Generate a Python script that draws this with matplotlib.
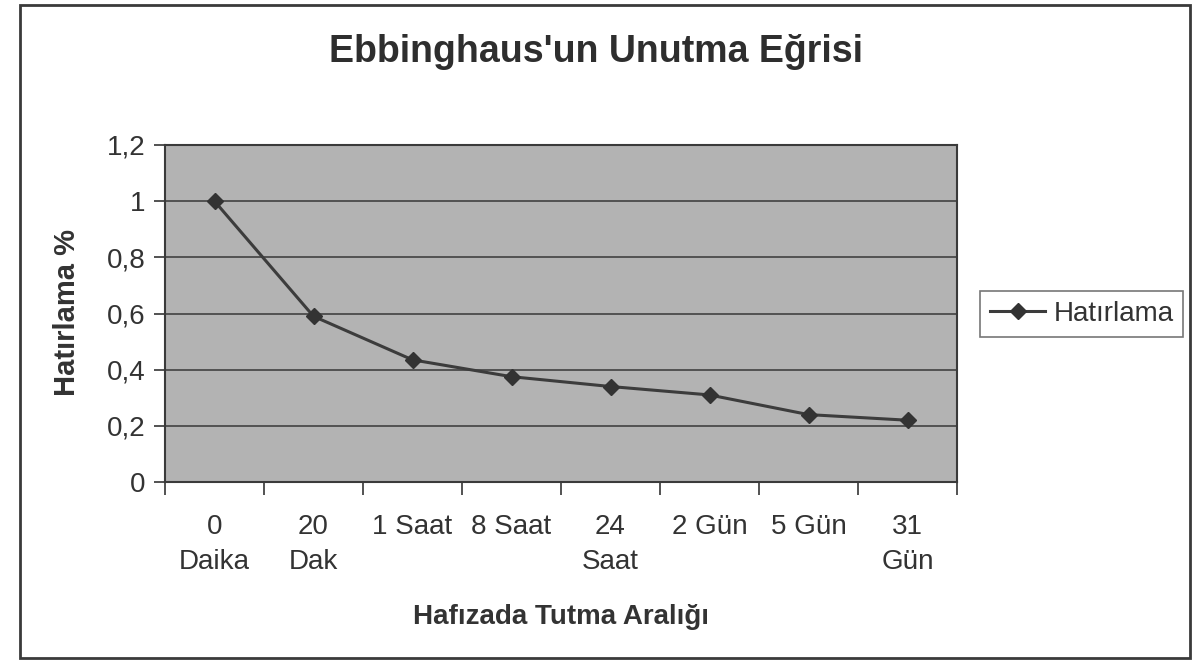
import matplotlib
matplotlib.use("Agg")
import matplotlib.pyplot as plt
from matplotlib.patches import Rectangle

categories = ["0\nDaika", "20\nDak", "1 Saat", "8 Saat", "24\nSaat", "2 Gün", "5 Gün", "31\nGün"]
hatirlama = [1.0, 0.59, 0.435, 0.375, 0.34, 0.31, 0.24, 0.22]
yticks = [0, 0.2, 0.4, 0.6, 0.8, 1.0, 1.2]
ytick_labels = ["0", "0,2", "0,4", "0,6", "0,8", "1", "1,2"]

plt.rcParams["font.family"] = ["Liberation Sans", "DejaVu Sans"]

W, H = 1197, 662
fig = plt.figure(figsize=(W / 100, H / 100), dpi=100)
fig.patch.set_facecolor("white")

# outer chart border
fig.patches.append(Rectangle((20 / W, 1 - 658 / H), (1190 - 20) / W, (658 - 5) / H,
                             transform=fig.transFigure, fill=False,
                             edgecolor="#3a3a3a", linewidth=2))

ax = fig.add_axes([165 / W, 1 - 482 / H, (957 - 165) / W, (482 - 145) / H])
ax.set_facecolor("#b3b3b3")

x = list(range(len(categories)))
ax.plot(x, hatirlama, color="#3c3c3c", linewidth=2.2, marker="D", markersize=8,
        markerfacecolor="#333333", markeredgecolor="#333333", label="Hatırlama", zorder=3)

ax.set_xlim(-0.5, len(categories) - 0.5)
ax.set_ylim(0, 1.2)
ax.set_yticks(yticks)
ax.set_yticklabels(ytick_labels, fontsize=20, color="#333333")
ax.set_xticks(x)
ax.set_xticklabels(categories, fontsize=20, color="#333333", linespacing=1.45)
ax.set_xticks([i - 0.5 for i in range(len(categories) + 1)], minor=True)
ax.tick_params(axis="x", which="major", length=0, pad=23)
ax.tick_params(axis="x", which="minor", length=9, width=1.3, color="#444444")
ax.tick_params(axis="y", length=8, width=1.3, color="#444444", pad=6)

ax.yaxis.grid(True, color="#4a4a4a", linewidth=1.3)
ax.set_axisbelow(True)
for s in ax.spines.values():
    s.set_color("#3a3a3a")
    s.set_linewidth(1.5)

fig.text(596 / W, 1 - 52 / H, "Ebbinghaus'un Unutma Eğrisi", ha="center", va="center",
         fontsize=27, fontweight="bold", color="#2e2e2e")
fig.text(561 / W, 1 - 617 / H, "Hafızada Tutma Aralığı", ha="center", va="center",
         fontsize=20, fontweight="bold", color="#333333")
fig.text(67 / W, 1 - 312 / H, "Hatırlama %", ha="center", va="center", rotation=90,
         fontsize=21, fontweight="bold", color="#333333")

leg = ax.legend(loc="center left", bbox_to_anchor=(980 / W, 1 - 314 / H),
                bbox_transform=fig.transFigure, fontsize=20, frameon=True,
                fancybox=False, edgecolor="#555555", handlelength=2.0,
                borderpad=0.35, handletextpad=0.3, borderaxespad=0)
leg.get_frame().set_linewidth(1.2)
for t in leg.get_texts():
    t.set_color("#333333")

fig.savefig("out.png", dpi=100, facecolor="white")
